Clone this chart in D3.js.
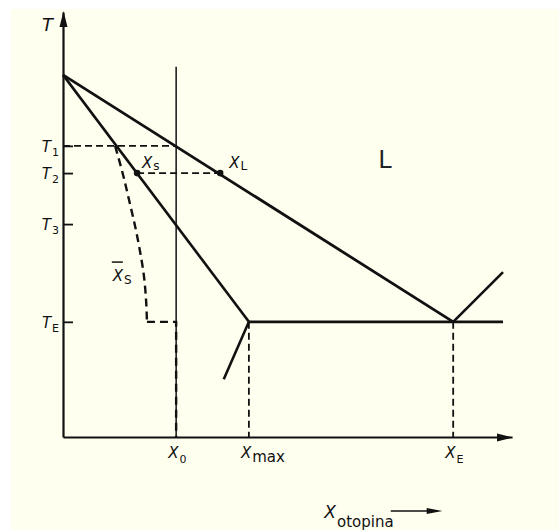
<!DOCTYPE html>
<html>
<head>
<meta charset="utf-8">
<script src="https://cdn.jsdelivr.net/npm/d3@7"></script>
<style>
  body { margin: 0; background: #ffffff; }
  svg { display: block; }
</style>
</head>
<body>
<svg id="drawing_region"></svg>
<script>
// values in chart units: composition 0..100, temperature 0..100
const tempTicks = [68.5, 62.1, 50.1, 27.1];
const tempSubs = ["1", "2", "3", "E"];
const compTicks = [25.2, 41.4, 86.9];
const compSubs = ["0", "max", "E"];

const liquidus = [[0, 85.2], [86.9, 27.1]];
const liquidusRight = [[86.9, 27.1], [98, 38.8]];
const solidus = [[0, 85.2], [41.4, 27.1]];
const solvus = [[41.4, 27.1], [35.8, 13.6]];
const eutectic = [[41.4, 27.1], [98, 27.1]];
const x0Line = [[25.2, 87.1], [25.2, 0]];
const meanSolid = [[11.6, 68.5], [13.4, 61.6], [14.7, 55.8], [16.0, 49.9],
                   [17.1, 44.0], [18.0, 38.1], [18.5, 32.2], [18.7, 27.1]];
const meanSolidFoot = [[18.7, 27.1], [25.2, 27.1], [25.2, 0]];
const tieLines = [
    [[0, 68.5], [25.2, 68.5]],
    [[16.5, 62.1], [35.0, 62.1]],
    [[41.4, 27.1], [41.4, 0]],
    [[86.9, 27.1], [86.9, 0]]
];
const tiePoints = [[16.5, 62.1], [35.0, 62.1]];

class PhaseDiagram {

    constructor( config ) {
        this.config = {
            parent: config.parent,
            width: config.width || 559,
            height: config.height || 531,
            margin: config.margin || {top: 12, right: 47, bottom: 94, left: 63}
        };
        this.init();
    }

    init() {
        let self = this;
        self.svg = d3.select( self.config.parent )
            .attr( 'width', self.config.width )
            .attr( 'height', self.config.height );

        // cream paper
        self.svg.append('rect')
            .attr('x', 11).attr('y', 9)
            .attr('width', self.config.width - 11)
            .attr('height', self.config.height - 10)
            .attr('fill', '#fffff0');

        self.chart = self.svg.append('g')
            .attr('transform', `translate(${self.config.margin.left}, ${self.config.margin.top})`);

        self.inner_width = self.config.width - (self.config.margin.left + self.config.margin.right);
        self.inner_height = self.config.height - (self.config.margin.top + self.config.margin.bottom);

        self.xscale = d3.scaleLinear().domain([0, 100]).range([0, self.inner_width]);
        self.yscale = d3.scaleLinear().domain([0, 100]).range([self.inner_height, 0]);
    }

    render() {
        let self = this;
        const x = self.xscale, y = self.yscale;
        const ink = '#111111';
        const font = "'DejaVu Sans', sans-serif";
        const line = d3.line().x(d => x(d[0])).y(d => y(d[1]));

        // axes
        const yaxis = d3.axisLeft(y).tickValues(tempTicks).tickSizeInner(-10).tickSizeOuter(0).tickFormat('');
        const xaxis = d3.axisBottom(x).tickValues(compTicks).tickSize(0).tickFormat('');
        const yg = self.chart.append('g').call(yaxis);
        const xg = self.chart.append('g').attr('transform', `translate(0,${self.inner_height})`).call(xaxis);
        [yg, xg].forEach(g => {
            g.select('.domain').attr('stroke', ink).attr('stroke-width', 2.2);
            g.selectAll('.tick line').attr('stroke', ink).attr('stroke-width', 1.8);
        });

        // arrow heads
        const x1 = x(100), y0 = y(0), y1 = y(100), x0 = x(0);
        self.chart.append('path')
            .attr('d', `M${x0 + 0.5},${y1 - 1} L${x0 - 3.5},${y1 + 15} L${x0 + 4.5},${y1 + 15} Z`)
            .attr('fill', ink);
        self.chart.append('path')
            .attr('d', `M${x1 + 1},${y0 + 0.5} L${x1 - 15},${y0 - 3.5} L${x1 - 15},${y0 + 4.5} Z`)
            .attr('fill', ink);

        // thin vertical at X0
        self.chart.append('path').attr('d', line(x0Line))
            .attr('stroke', ink).attr('stroke-width', 1.5).attr('fill', 'none');

        // dashed construction lines
        self.chart.selectAll('.tie').data(tieLines).enter().append('path')
            .attr('class', 'tie')
            .attr('d', d => line(d))
            .attr('stroke', ink).attr('stroke-width', 1.8)
            .attr('stroke-dasharray', '7,4').attr('fill', 'none');

        // mean solid composition
        self.chart.append('path')
            .attr('d', d3.line().x(d => x(d[0])).y(d => y(d[1])).curve(d3.curveMonotoneY)(meanSolid))
            .attr('stroke', ink).attr('stroke-width', 2.4)
            .attr('stroke-dasharray', '8,5').attr('fill', 'none');
        self.chart.append('path')
            .attr('d', line(meanSolidFoot))
            .attr('stroke', ink).attr('stroke-width', 2.4)
            .attr('stroke-dasharray', '8,5').attr('fill', 'none');

        // phase boundaries
        [liquidus, solidus, solvus, eutectic, liquidusRight].forEach((seg, i) => {
            self.chart.append('path').attr('d', line(seg))
                .attr('stroke', ink)
                .attr('stroke-width', i === 0 ? 2.8 : 2.6)
                .attr('stroke-linejoin', 'round')
                .attr('fill', 'none');
        });

        self.chart.selectAll('circle').data(tiePoints).enter().append('circle')
            .attr('cx', d => x(d[0])).attr('cy', d => y(d[1]))
            .attr('r', 3.3).attr('fill', ink);

        // labels
        const label = (px, py, main, sub, opts = {}) => {
            const t = self.chart.append('text')
                .attr('x', px).attr('y', py)
                .attr('text-anchor', opts.anchor || 'start')
                .attr('font-family', font).attr('fill', ink);
            t.append('tspan').attr('font-size', opts.size || 15)
                .attr('font-style', 'italic').text(main);
            if (sub) t.append('tspan').attr('font-size', opts.subSize || 11)
                .attr('dy', opts.dy || 4).attr('dx', 1).text(sub);
            return t;
        };

        label(x0 - 21, y1 + 19, 'T', null, {size: 18});
        tempTicks.forEach((v, i) => label(x0 - 4, y(v) + 6, 'T', tempSubs[i], {anchor: 'end', size: 15}));
        compTicks.forEach((v, i) => label(x(v) - 8, y0 + 21, 'X', compSubs[i],
            {size: 15, subSize: i === 1 ? 15 : 11, dy: i === 1 ? 4 : 5}));

        label(x(tiePoints[0][0]) + 5, y(tiePoints[0][1]) - 5, 'X', 's', {size: 15, subSize: 12, dy: 2});
        label(x(tiePoints[1][0]) + 9, y(tiePoints[1][1]) - 5, 'X', 'L', {size: 15, subSize: 12, dy: 2});

        label(x(meanSolid[5][0]) - 31, y(meanSolid[5][1]) + 6, 'X', 'S', {size: 15, subSize: 12, dy: 3});
        self.chart.append('line')
            .attr('x1', x(meanSolid[5][0]) - 32).attr('x2', x(meanSolid[5][0]) - 21)
            .attr('y1', y(meanSolid[5][1]) - 13).attr('y2', y(meanSolid[5][1]) - 13)
            .attr('stroke', ink).attr('stroke-width', 1.5);

        self.chart.append('text')
            .attr('x', x(70.2)).attr('y', y(63.3))
            .attr('font-family', font).attr('font-size', 24)
            .attr('fill', '#222').text('L');

        // x title
        label(x(58.2), y0 + 81, 'X', 'otopina', {size: 17, subSize: 15, dy: 9});
        self.chart.append('line')
            .attr('x1', x(73)).attr('x2', x(82))
            .attr('y1', y0 + 74).attr('y2', y0 + 74)
            .attr('stroke', ink).attr('stroke-width', 1.5);
        self.chart.append('path')
            .attr('d', `M${x(84.5)},${y0 + 74} L${x(81)},${y0 + 71} L${x(81)},${y0 + 77} Z`)
            .attr('fill', ink);
    }
}

const chart = new PhaseDiagram({ parent: '#drawing_region', width: 559, height: 531 });
chart.render();
</script>
</body>
</html>
